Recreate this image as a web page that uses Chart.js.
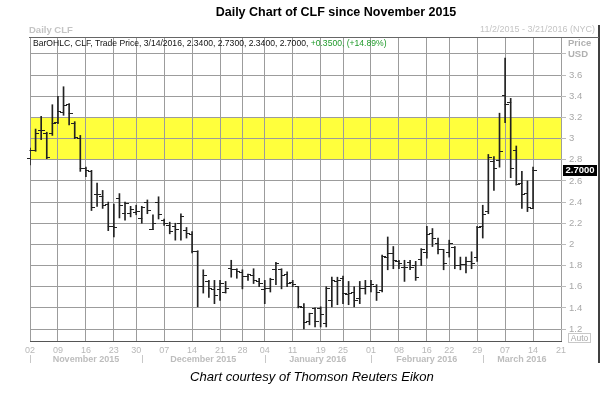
<!DOCTYPE html>
<html>
<head>
<meta charset="utf-8">
<script src="https://cdn.jsdelivr.net/npm/chart.js@4.4.0/dist/chart.umd.min.js"></script>
<style>
  html, body { margin: 0; padding: 0; background: #fff; }
  canvas { display: block; }
</style>
</head>
<body>
<canvas id="clf-chart" width="616" height="393"></canvas>
<script>
// trading days on the axis (Nov 2 2015 .. Mar 21 2016)
const dates = [
  '11/02','11/03','11/04','11/05','11/06','11/09','11/10','11/11','11/12','11/13',
  '11/16','11/17','11/18','11/19','11/20','11/23','11/24','11/25','11/27','11/30',
  '12/01','12/02','12/03','12/04','12/07','12/08','12/09','12/10','12/11',
  '12/14','12/15','12/16','12/17','12/18','12/21','12/22','12/23','12/24',
  '12/28','12/29','12/30','12/31',
  '01/04','01/05','01/06','01/07','01/08','01/11','01/12','01/13','01/14','01/15',
  '01/19','01/20','01/21','01/22','01/25','01/26','01/27','01/28','01/29',
  '02/01','02/02','02/03','02/04','02/05','02/08','02/09','02/10','02/11','02/12',
  '02/16','02/17','02/18','02/19','02/22','02/23','02/24','02/25','02/26','02/29',
  '03/01','03/02','03/03','03/04','03/07','03/08','03/09','03/10','03/11',
  '03/14','03/15','03/16','03/17','03/18','03/21'
];
const tickDates = ['11/02','11/09','11/16','11/23','11/30','12/07','12/14','12/21','12/28',
  '01/04','01/11','01/19','01/25','02/01','02/08','02/16','02/22','02/29','03/07','03/14','03/21'];
const monthNames = ['November 2015','December 2015','January 2016','February 2016','March 2016'];

const open = [2.81,2.89,3.08,3.05,3.05,3.15,3.25,3.32,3.14,3.00,
  2.72,2.69,2.47,2.45,2.38,2.17,2.43,2.29,2.29,2.30,
  2.24,2.40,2.14,2.40,2.23,2.18,2.17,2.20,2.13,2.09,
  1.93,1.60,1.65,1.57,1.57,1.55,1.77,1.76,1.73,1.70,
  1.71,1.65,1.57,1.58,1.76,1.76,1.72,1.64,1.60,1.40,
  1.27,1.39,1.39,1.25,1.47,1.65,1.68,1.53,1.55,1.49,
  1.58,1.60,1.60,1.56,1.88,1.91,1.84,1.78,1.83,1.80,
  1.86,1.92,2.10,2.01,1.95,1.92,1.97,1.80,1.81,1.84,
  1.88,2.17,2.31,2.78,2.79,3.41,3.34,2.89,2.58,2.48,
  2.34];
const high = [2.91,3.09,3.21,3.06,3.32,3.40,3.49,3.33,3.16,3.03,
  2.73,2.70,2.58,2.51,2.40,2.38,2.48,2.40,2.36,2.37,
  2.36,2.42,2.28,2.45,2.24,2.21,2.20,2.29,2.16,2.12,
  1.94,1.76,1.66,1.66,1.66,1.65,1.85,1.77,1.76,1.72,
  1.77,1.68,1.66,1.68,1.83,1.77,1.74,1.66,1.60,1.44,
  1.35,1.40,1.41,1.60,1.69,1.69,1.70,1.65,1.60,1.65,
  1.66,1.66,1.62,1.90,2.07,1.98,1.85,1.85,1.85,1.84,
  1.96,2.17,2.15,2.06,1.95,2.04,1.98,1.88,1.88,1.93,
  2.17,2.37,2.85,2.83,3.24,3.76,3.38,2.93,2.69,2.60,
  2.73];
const low = [2.75,2.88,2.99,2.81,3.03,3.14,3.22,3.13,3.00,2.69,
  2.64,2.32,2.36,2.34,2.13,2.07,2.25,2.23,2.26,2.28,
  2.20,2.29,2.14,2.24,2.18,2.10,2.04,2.04,2.06,1.92,
  1.41,1.54,1.50,1.44,1.47,1.54,1.69,1.68,1.58,1.66,
  1.63,1.60,1.44,1.55,1.62,1.58,1.60,1.60,1.40,1.20,
  1.24,1.22,1.22,1.22,1.41,1.43,1.44,1.43,1.41,1.44,
  1.53,1.55,1.47,1.55,1.76,1.77,1.77,1.65,1.76,1.66,
  1.80,1.87,1.98,1.91,1.76,1.88,1.77,1.76,1.73,1.77,
  1.84,2.06,2.29,2.51,2.73,3.15,2.63,2.56,2.34,2.31,
  2.34];
const close = [2.89,3.05,3.08,2.82,3.14,3.26,3.31,3.24,3.01,2.72,
  2.70,2.35,2.47,2.37,2.17,2.16,2.37,2.39,2.33,2.31,
  2.35,2.32,2.20,2.28,2.20,2.12,2.14,2.26,2.10,1.93,
  1.60,1.71,1.58,1.52,1.63,1.58,1.76,1.74,1.70,1.72,
  1.66,1.63,1.58,1.67,1.82,1.71,1.63,1.62,1.41,1.26,
  1.35,1.27,1.34,1.58,1.66,1.66,1.54,1.54,1.47,1.58,
  1.60,1.62,1.55,1.89,1.91,1.85,1.82,1.78,1.78,1.69,
  1.95,2.09,2.06,1.95,1.82,2.01,1.80,1.81,1.84,1.82,
  2.16,2.28,2.82,2.72,2.88,3.32,2.72,2.57,2.47,2.35,
  2.70];

const yTicks = [1.2,1.4,1.6,1.8,2,2.2,2.4,2.6,2.8,3,3.2,3.4,3.6,3.8];
const band = [2.8, 3.2];
const lastDate = '3/14/2016';

const GRID = '#9c9c9c';
const FAINT = '#b8b8b8';
const SANS = '"Liberation Sans", Arial, sans-serif';

function tickImage(side) {
  const c = document.createElement('canvas');
  c.width = 7; c.height = 1;
  const g = c.getContext('2d');
  g.fillStyle = '#222';
  g.fillRect(side === 'left' ? 0 : 3, 0, 4, 1);
  return c;
}

function fitSize(ctx, text, style, width) {
  ctx.font = style + ' 20px ' + SANS;
  return 20 * width / ctx.measureText(text).width;
}

const decor = {
  id: 'decor',
  beforeDraw(chart) {
    const { ctx, chartArea: a, scales: { y } } = chart;
    const top = y.getPixelForValue(band[1]), bot = y.getPixelForValue(band[0]);
    ctx.save();
    ctx.fillStyle = '#ffff3c';
    ctx.fillRect(a.left, top, a.right - a.left, bot - top);
    ctx.restore();
  },
  afterDraw(chart) {
    const { ctx, chartArea: a, scales: { x, y } } = chart;
    const n = close.length;
    ctx.save();

    // title + caption
    ctx.fillStyle = '#000';
    ctx.textAlign = 'center';
    ctx.textBaseline = 'middle';
    const title = 'Daily Chart of CLF since November 2015';
    ctx.font = 'bold ' + fitSize(ctx, title, 'bold', 241).toFixed(2) + 'px ' + SANS;
    ctx.fillText(title, 336, 13);
    const cap = 'Chart courtesy of Thomson Reuters Eikon';
    ctx.font = 'italic ' + fitSize(ctx, cap, 'italic', 244).toFixed(2) + 'px ' + SANS;
    ctx.fillText(cap, 312, 377);

    // frame
    const frameX = 599;
    ctx.strokeStyle = '#000';
    ctx.lineWidth = 1.5;
    ctx.beginPath();
    ctx.moveTo(frameX, 25); ctx.lineTo(frameX, 363);
    ctx.stroke();
    ctx.strokeStyle = '#666';
    ctx.lineWidth = 1;
    ctx.beginPath();
    ctx.moveTo(a.left - 1, a.top + 0.5); ctx.lineTo(frameX, a.top + 0.5);
    ctx.stroke();

    // header texts
    ctx.textAlign = 'left';
    ctx.fillStyle = '#c4c4c4';
    ctx.font = 'bold 9.5px ' + SANS;
    ctx.fillText('Daily CLF', 29, 30);
    ctx.textAlign = 'right';
    ctx.font = '9px ' + SANS;
    ctx.fillText('11/2/2015 - 3/21/2016 (NYC)', 595, 30);

    // quote line
    const chg = close[n - 1] - close[n - 2];
    const pct = chg / close[n - 2] * 100;
    const part1 = 'BarOHLC, CLF, Trade Price, ' + lastDate + ', ' +
      [open[n - 1], high[n - 1], low[n - 1], close[n - 1]].map(v => v.toFixed(4)).join(', ') + ', ';
    const part2 = (chg >= 0 ? '+' : '') + chg.toFixed(4) + ', (' + (pct >= 0 ? '+' : '') + pct.toFixed(2) + '%)';
    const qs = fitSize(ctx, part1 + part2, '', 354).toFixed(2);
    ctx.font = qs + 'px ' + SANS;
    ctx.textAlign = 'left';
    ctx.fillStyle = '#111';
    ctx.fillText(part1, 33, 44);
    ctx.fillStyle = '#1f9a2a';
    ctx.fillText(part2, 33 + ctx.measureText(part1).width, 44);

    // Price / USD
    ctx.fillStyle = '#b0b0b0';
    ctx.font = 'bold 9.5px ' + SANS;
    ctx.fillText('Price', 568, 43);
    ctx.fillText('USD', 568, 54);

    // last price box
    const ly = Math.round(y.getPixelForValue(close[n - 1]));
    ctx.fillStyle = '#000';
    ctx.fillRect(563, ly - 5, 34, 11);
    ctx.fillStyle = '#fff';
    ctx.textAlign = 'center';
    ctx.font = 'bold 9.5px ' + SANS;
    ctx.fillText(close[n - 1].toFixed(4), 580, ly + 0.5);

    // Auto box
    ctx.strokeStyle = '#c8c8c8';
    ctx.strokeRect(568.5, 333.5, 22, 9);
    ctx.fillStyle = '#aaa';
    ctx.font = '8.5px ' + SANS;
    ctx.fillText('Auto', 579.5, 338.5);

    // month row
    const starts = [];
    dates.forEach((d, i) => { if (i === 0 || d.slice(0, 2) !== dates[i - 1].slice(0, 2)) starts.push(i); });
    ctx.strokeStyle = '#c8c8c8';
    ctx.fillStyle = '#bdbdbd';
    ctx.font = 'bold 9px ' + SANS;
    starts.forEach((s, k) => {
      const px = Math.round(x.getPixelForValue(s)) + 0.5;
      ctx.beginPath(); ctx.moveTo(px, 355); ctx.lineTo(px, 363); ctx.stroke();
      const e = k + 1 < starts.length ? starts[k + 1] : dates.length - 1;
      const cx = (x.getPixelForValue(s) + x.getPixelForValue(e)) / 2;
      ctx.fillText(monthNames[k], cx, 359.5);
    });
    ctx.restore();
  }
};

new Chart(document.getElementById('clf-chart'), {
  type: 'bar',
  data: {
    labels: dates,
    datasets: [
      {
        label: 'High-Low',
        data: low.map((l, i) => [l, high[i]]),
        backgroundColor: '#222',
        barThickness: 1,
        order: 2
      },
      {
        type: 'line',
        label: 'Open',
        data: open,
        showLine: false,
        pointStyle: tickImage('left'),
        pointRadius: 3,
        order: 1
      },
      {
        type: 'line',
        label: 'Close',
        data: close,
        showLine: false,
        pointStyle: tickImage('right'),
        pointRadius: 3,
        order: 1
      }
    ]
  },
  options: {
    responsive: false,
    animation: false,
    layout: { padding: { left: 30, top: 37, right: 0, bottom: 0 } },
    plugins: { legend: { display: false }, tooltip: { enabled: false }, title: { display: false } },
    scales: {
      x: {
        offset: false,
        afterFit(s) { s.height = 52; },
        afterBuildTicks(s) {
          s.ticks = dates.map((d, i) => ({ value: i })).filter(t => tickDates.includes(dates[t.value]));
        },
        grid: { offset: false, color: GRID, lineWidth: 1, drawTicks: false },
        border: { display: true, color: '#555', width: 1 },
        ticks: {
          autoSkip: false, maxRotation: 0, padding: 4,
          color: FAINT, font: { family: SANS, size: 9 },
          callback: v => dates[v].slice(3)
        }
      },
      y: {
        position: 'right',
        min: 1.087,
        max: 3.96,
        afterFit(s) { s.width = 55; },
        afterBuildTicks(s) { s.ticks = yTicks.map(v => ({ value: v })); },
        grid: { color: GRID, lineWidth: 1, tickLength: 5, tickColor: '#bbb' },
        border: { display: false },
        ticks: {
          padding: 3, color: '#a8a8a8', font: { family: SANS, size: 9.5 },
          callback: v => (v === 3.8 ? '' : String(v))
        }
      }
    }
  },
  plugins: [decor]
});
</script>
</body>
</html>
